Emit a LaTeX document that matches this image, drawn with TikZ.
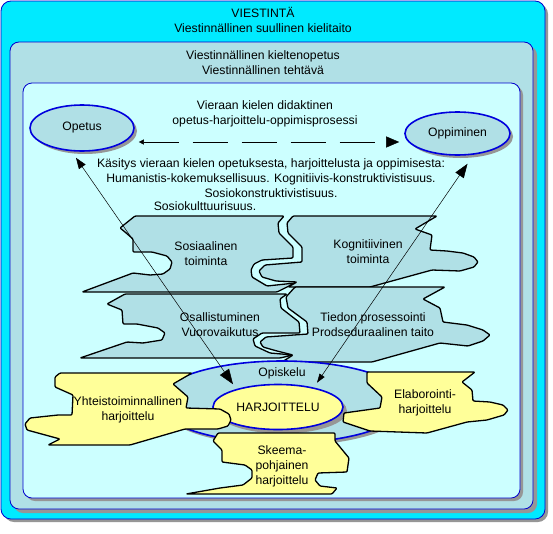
\documentclass[tikz,border=0pt]{standalone}
\usepackage{fontspec}
\setmainfont{Liberation Sans}
\usetikzlibrary{shapes.geometric,shadows,arrows.meta,calc}
\definecolor{cyanbg}{RGB}{0,234,255}
\definecolor{powder}{RGB}{176,224,230}
\definecolor{paleblue}{RGB}{204,255,255}
\definecolor{frameblue}{RGB}{0,0,204}
\definecolor{ellblue}{RGB}{0,0,221}
\definecolor{shadowgray}{RGB}{150,150,150}
\definecolor{paleyellow}{RGB}{255,255,153}
\tikzset{
  framebox/.style={rectangle, draw=frameblue, line width=0.8pt, inner sep=0pt},
  shad/.style={drop shadow={shadow xshift=#1, shadow yshift=-#1, fill=shadowgray, opacity=1}},
  ellbox/.style={ellipse, draw=ellblue, line width=1.6pt, inner sep=0pt, shad=3pt},
  piece/.style={draw=black, line width=1.3pt, line join=round, rounded corners=1pt, fill=powder},
  ypiece/.style={draw=black, line width=1.3pt, line join=round, rounded corners=1pt, fill=paleyellow},
  txt/.style={align=center, inner sep=0pt},
  conn/.style={line width=0.5pt, black},
}
\begin{document}
\begin{tikzpicture}[x=1pt, y=-1pt, font=\fontsize{12.2}{15}\selectfont]
\useasboundingbox (0,0) rectangle (553,533);
\fill[white] (0,0) rectangle (553,533);

% frames
\node[framebox, fill=cyanbg, rounded corners=10pt, shad=3pt, minimum width=544pt, minimum height=518pt] (outer) at (273,260) {};
\node[framebox, fill=powder, rounded corners=9pt, shad=4pt, minimum width=523pt, minimum height=467pt] (middle) at (271.5,275.5) {};
\node[framebox, fill=paleblue, rounded corners=9pt, shad=3pt, minimum width=497pt, minimum height=415pt] (inner) at (271.5,290.5) {};

\node[txt] (title1) at (263,20) {VIESTINTÄ\\Viestinnällinen suullinen kielitaito};
\node[txt] (title2) at (263,62.5) {Viestinnällinen kieltenopetus\\Viestinnällinen tehtävä};
\node[txt] (process) at (265,114) {Vieraan kielen didaktinen\\opetus-harjoittelu-oppimisprosessi};
\node[txt] (kasitys) at (271,178) {Käsitys vieraan kielen opetuksesta, harjoittelusta ja oppimisesta:\\Humanistis-kokemuksellisuus. Kognitiivis-konstruktivistisuus.\\Sosiokonstruktivistisuus.};
\node[txt] (sosiokult) at (205,206) {Sosiokulttuurisuus.};

% ellipses top
\node[ellbox, fill=powder, minimum width=104pt, minimum height=46pt] (opetus) at (82,128) {Opetus};
\node[ellbox, fill=powder, minimum width=105pt, minimum height=43pt] (oppiminen) at (457.5,133.5) {Oppiminen};

% puzzle pieces
\path[piece] (135,216) -- (284,216) -- (278,223) -- (279,233) -- (293,247) -- (293,258) -- (262,260) -- (254,264) -- (251,270) -- (252,277) -- (267,286) -- (295,283) -- (277,292) -- (82,292) -- (133,273) -- (150,275) -- (163,274) -- (170,269) -- (172,262) -- (167,256) -- (152,252) -- (133,252) -- (133,239) -- (125,232) -- (120,228) -- cycle;
\path[piece] (293,216) -- (437,216) -- (415,229) -- (432,235) -- (430,250) -- (447,251) -- (463,253) -- (474,257) -- (478,262) -- (474,267) -- (460,271) -- (432,270) -- (370,287) -- (288,287) -- (297,282) -- (276,281) -- (262,277) -- (259,271) -- (265,265) -- (302,262) -- (302,247) -- (288,233) -- (287,223) -- cycle;
\path[piece] (125,294) -- (287,294) -- (280,299) -- (281,308) -- (299,322) -- (300,333) -- (262,333) -- (253,339) -- (255,346) -- (270,353) -- (293,355) -- (280,358) -- (80,358) -- (127,342) -- (143,343) -- (162,340) -- (165,333) -- (158,328) -- (137,324) -- (123,324) -- (122,310) -- (107,304) -- cycle;
\path[piece] (295,287) -- (445,287) -- (423,299) -- (440,308) -- (443,322) -- (467,325) -- (483,330) -- (490,335) -- (483,341) -- (468,346) -- (440,343) -- (372,362) -- (282,362) -- (293,355) -- (277,351) -- (263,347) -- (260,342) -- (266,337) -- (308,334) -- (307,322) -- (288,308) -- (286,297) -- cycle;

\node[txt] (sosiaalinen) at (206,254) {Sosiaalinen\\toiminta};
\node[txt] (kognitiivinen) at (368,252) {Kognitiivinen\\toiminta};
\node[txt] (osallistuminen) at (220,325) {Osallistuminen\\Vuorovaikutus};
\node[txt] (tiedon) at (373,325) {Tiedon prosessointi\\Prodseduraalinen taito};

% centre ellipses
\node[ellbox, fill=powder, minimum width=250pt, minimum height=82pt] (opiskelu) at (282,402) {};
\node[txt] (opiskelutxt) at (282,373) {Opiskelu};
\node[ellbox, fill=paleyellow, shad=4pt, minimum width=130pt, minimum height=45pt] (harj) at (278,407) {HARJOITTELU};

% yellow pieces
\path[ypiece] (60,373) -- (192,373) -- (173,384) -- (188,397) -- (186,408) -- (220,409) -- (229,414) -- (231,420) -- (228,426) -- (218,429) -- (185,429) -- (130,445) -- (48,445) -- (60,439) -- (27,430) -- (25,424) -- (30,418) -- (58,415) -- (72,415) -- (73,395) -- (55,387) -- (55,377) -- cycle;
\path[ypiece] (367,372) -- (475,372) -- (462,382) -- (472,390) -- (473,401) -- (490,402) -- (503,405) -- (508,410) -- (504,415) -- (487,420) -- (467,422) -- (427,433) -- (370,431) -- (343,422) -- (344,413) -- (380,408) -- (382,397) -- (367,383) -- cycle;
\path[ypiece] (218,433) -- (335,433) -- (335,441) -- (349,458) -- (347,472) -- (318,473) -- (315,480) -- (320,486) -- (337,488) -- (332,494) -- (186,494) -- (220,488) -- (243,485) -- (252,478) -- (252,470) -- (245,465) -- (222,462) -- (222,450) -- (213,441) -- cycle;

\node[txt] (yhteis) at (128,410) {Yhteistoiminnallinen\\harjoittelu};
\node[txt] (elab) at (425,403) {Elaborointi-\\harjoittelu};
\node[txt] (skeema) at (282,466) {Skeema-\\pohjainen\\harjoittelu};

% connectors
\draw[conn, dash pattern=on 35pt off 14pt, {Triangle[length=5pt,width=5pt]}-{Triangle[length=13pt,width=11pt]}]
  ($(opetus.east)+(4,14)$) -- ($(oppiminen.west)+(-5,8.5)$);
\draw[conn, {Triangle[length=11pt,width=8pt]}-{Triangle[length=15pt,width=11pt]}]
  ($(opetus.south)+(-6,6)$) -- ($(harj.north)+(-45,0.5)$);
\draw[conn, {Triangle[length=9pt,width=6pt]}-{Triangle[length=14pt,width=10pt]}]
  ($(harj.north)+(39,-1)$) -- ($(oppiminen.south)+(10,8)$);
\end{tikzpicture}
\end{document}
